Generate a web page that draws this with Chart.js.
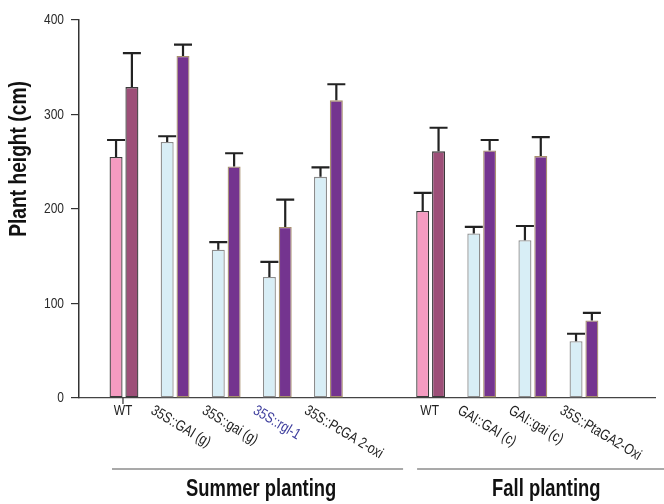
<!DOCTYPE html>
<html>
<head>
<meta charset="utf-8">
<script src="https://cdn.jsdelivr.net/npm/chart.js@4/dist/chart.umd.min.js"></script>
<style>
  html, body { margin: 0; padding: 0; background: #fff; }
  #wrap { width: 664px; height: 504px; position: relative; }
</style>
</head>
<body>
<div id="wrap"><canvas id="c" width="664" height="504"></canvas></div>
<script>
// Line positions on the x axis (5 is the gap between the two plantings)
const positions = [0, 1, 2, 3, 4, 6, 7, 8, 9];
const lineLabels = ['WT', '35S::GAI (g)', '35S::gai (g)', '35S::rgl-1', '35S::PcGA 2-oxi',
                    'WT', 'GAI::GAI (c)', 'GAI::gai (c)', '35S::PtaGA2-Oxi'];
const groupNames = ['Summer planting', 'Fall planting'];

// First bar of each pair (wild type / non-transgenic control) and its error
const firstBar = [255, 271, 157, 128, 234, 198, 174, 167, 60];
const firstErr = [18, 6, 8, 16, 10, 19, 7, 15, 8];
// Second bar of each pair and its error
const secondBar = [329, 362, 245, 181, 315, 261, 262, 256, 82];
const secondErr = [36, 12, 14, 29, 17, 25, 11, 20, 8];

const yTicks = [0, 100, 200, 300, 400];

const FONT = "'Liberation Sans', Arial, sans-serif";
const SQUEEZE = 0.8;   // horizontal squeeze for a condensed look
const isWT = lineLabels.map(l => l === 'WT');

const firstFill = isWT.map(w => w ? '#f59bc1' : '#d8eef6');
const firstBorder = isWT.map(w => w ? '#3a3a3a' : '#8c8c8c');
const secondFill = isWT.map(w => w ? '#9d4f78' : '#74348f');
const secondBorder = isWT.map(w => w ? '#3a3a3a' : '#a8916f');

// draw condensed text: translate, rotate, then squeeze horizontally
function condensedText(ctx, text, x, y, font, color, align, baseline, angle) {
  ctx.save();
  ctx.translate(x, y);
  if (angle) ctx.rotate(angle);
  ctx.scale(SQUEEZE, 1);
  ctx.font = font;
  ctx.fillStyle = color;
  ctx.textAlign = align;
  ctx.textBaseline = baseline;
  ctx.fillText(text, 0, 0);
  ctx.restore();
}

const errorBars = {
  id: 'errorBars',
  afterDatasetsDraw(chart) {
    const ctx = chart.ctx;
    const y = chart.scales.y;
    const errs = [firstErr, secondErr];
    const vals = [firstBar, secondBar];
    ctx.save();
    ctx.strokeStyle = '#222';
    ctx.lineWidth = 2.2;
    chart.data.datasets.forEach((ds, di) => {
      const meta = chart.getDatasetMeta(di);
      meta.data.forEach((bar, i) => {
        const top = y.getPixelForValue(vals[di][i] + errs[di][i]);
        ctx.beginPath();
        ctx.moveTo(bar.x, bar.y);
        ctx.lineTo(bar.x, top);
        ctx.moveTo(bar.x - 9, top);
        ctx.lineTo(bar.x + 9, top);
        ctx.stroke();
      });
    });
    ctx.restore();
  }
};

const annotations = {
  id: 'annotations',
  afterDraw(chart) {
    const ctx = chart.ctx;
    const x = chart.scales.x;
    const y = chart.scales.y;
    const base = y.getPixelForValue(0);
    ctx.save();

    // y tick labels
    yTicks.forEach(v => {
      condensedText(ctx, String(v), y.left + 64, y.getPixelForValue(v), '15px ' + FONT, '#2a2a2a', 'right', 'middle');
    });

    // small tick under the first WT pair
    ctx.strokeStyle = '#333';
    ctx.lineWidth = 1.2;
    ctx.beginPath();
    ctx.moveTo(x.getPixelForValue(0) - 1, base);
    ctx.lineTo(x.getPixelForValue(0) - 1, base + 6);
    ctx.stroke();

    // line labels
    positions.forEach((p, i) => {
      const px = x.getPixelForValue(p);
      const color = lineLabels[i] === '35S::rgl-1' ? '#3c3c9c' : '#222';
      if (isWT[i]) {
        condensedText(ctx, lineLabels[i], px - 1, base + 5, '15px ' + FONT, color, 'center', 'top');
      } else {
        condensedText(ctx, lineLabels[i], px - 19, base + 5, '15px ' + FONT, color, 'left', 'top', 31 * Math.PI / 180);
      }
    });

    // planting group rules and names
    const ruleY = base + 71;
    const groups = [
      [x.getPixelForValue(0) - 12, x.getPixelForValue(5.5) - 2],
      [x.getPixelForValue(5.5) + 12, chart.width]
    ];
    ctx.strokeStyle = '#555';
    ctx.lineWidth = 1.2;
    groups.forEach(([a, b]) => {
      ctx.beginPath();
      ctx.moveTo(a, ruleY);
      ctx.lineTo(b, ruleY);
      ctx.stroke();
    });
    condensedText(ctx, groupNames[0], (x.getPixelForValue(0) + x.getPixelForValue(4)) / 2 + 35, base + 92,
                  'bold 23px ' + FONT, '#111', 'center', 'middle');
    condensedText(ctx, groupNames[1], (x.getPixelForValue(6) + x.getPixelForValue(9)) / 2 + 39, base + 92,
                  'bold 23px ' + FONT, '#111', 'center', 'middle');

    // y axis title
    condensedText(ctx, 'Plant height (cm)', 19, 159, 'bold 24px ' + FONT, '#111', 'center', 'middle', -Math.PI / 2);

    ctx.restore();
  }
};

new Chart(document.getElementById('c'), {
  type: 'bar',
  data: {
    datasets: [
      {
        data: positions.map((p, i) => ({ x: p, y: firstBar[i] })),
        backgroundColor: firstFill,
        borderColor: firstBorder,
        borderWidth: 1.3,
        borderSkipped: false
      },
      {
        data: positions.map((p, i) => ({ x: p, y: secondBar[i] })),
        backgroundColor: secondFill,
        borderColor: secondBorder,
        borderWidth: 1.3,
        borderSkipped: false
      }
    ]
  },
  options: {
    responsive: false,
    animation: false,
    devicePixelRatio: 1,
    categoryPercentage: 0.62,
    barPercentage: 0.82,
    layout: { padding: { top: 20, right: 9, left: 0, bottom: 0 } },
    plugins: { legend: { display: false }, tooltip: { enabled: false } },
    scales: {
      x: {
        type: 'linear',
        offset: false,
        min: -0.88,
        max: 10.39,
        grid: { display: false },
        border: { display: true, color: '#444', width: 1.2 },
        ticks: { display: false },
        afterFit(scale) { scale.height = 106; }
      },
      y: {
        min: 0,
        max: 400,
        afterBuildTicks(scale) { scale.ticks = yTicks.map(v => ({ value: v })); },
        grid: { display: true, drawOnChartArea: false, drawTicks: true, tickLength: 8, color: '#333', lineWidth: 1.2 },
        border: { display: true, color: '#333', width: 1.5 },
        ticks: { display: false },
        afterFit(scale) { scale.width = 79; }
      }
    }
  },
  plugins: [errorBars, annotations]
});
</script>
</body>
</html>
